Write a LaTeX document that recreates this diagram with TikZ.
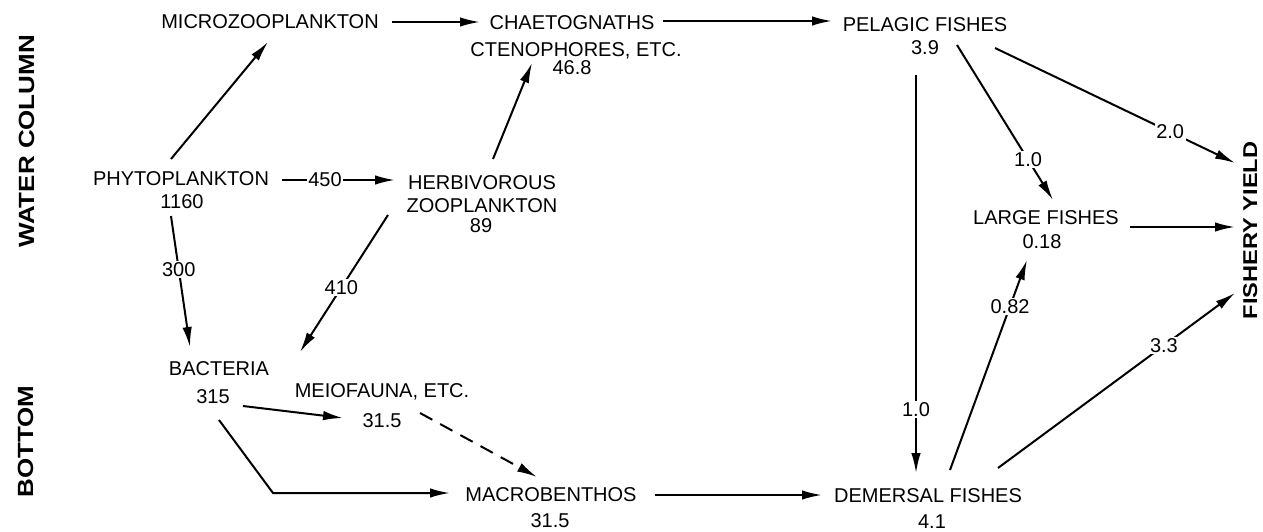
\documentclass[tikz,border=0pt]{standalone}
\usepackage{fontspec}
\setmainfont{Liberation Sans}
\newfontfamily\widebf{Liberation Sans}[FakeStretch=1.18]
\usetikzlibrary{arrows.meta}
\begin{document}
\begin{tikzpicture}[x=1pt,y=-1pt,
  lab/.style={anchor=base,inner sep=0pt,font=\fontsize{20}{24}\selectfont},
  flow/.style={line width=2pt,-{Latex[length=20pt,width=9.5pt]}},
  num/.style={fill=white,inner sep=1.5pt,font=\fontsize{20}{24}\selectfont},
  side/.style={anchor=base,rotate=90,inner sep=0pt,font=\widebf\bfseries\fontsize{22}{26}\selectfont}]
\useasboundingbox (0,0) rectangle (1263,532);
% side labels
\node[side] (water) at (34,141.5) {WATER COLUMN};
\node[side] (bottom) at (33,441.5) {BOTTOM};
\node[side,font=\widebf\bfseries\fontsize{20}{24}\selectfont] (fish) at (1257,230.5) {FISHERY YIELD};
% compartments
\node[lab] (micro) at (270,29) {MICROZOOPLANKTON};
\node[lab] (chaet) at (572,30) {CHAETOGNATHS};
\node[lab] (cteno) at (576,57) {CTENOPHORES, ETC.};
\node[lab] (chaetv) at (572,75) {46.8};
\node[lab] (pel) at (925,32) {PELAGIC FISHES};
\node[lab] (pelv) at (925,55) {3.9};
\node[lab] (phyto) at (181,185) {PHYTOPLANKTON};
\node[lab] (phytov) at (182,208) {1160};
\node[lab] (herb) at (482,189) {HERBIVOROUS};
\node[lab] (zoo) at (482,212) {ZOOPLANKTON};
\node[lab] (herbv) at (481,232) {89};
\node[lab] (large) at (1046,224) {LARGE FISHES};
\node[lab] (largev) at (1042,248) {0.18};
\node[lab] (bact) at (219,375) {BACTERIA};
\node[lab] (bactv) at (213,403) {315};
\node[lab] (meio) at (382,397) {MEIOFAUNA, ETC.};
\node[lab] (meiov) at (382,427) {31.5};
\node[lab] (macro) at (551,501) {MACROBENTHOS};
\node[lab] (macrov) at (550,527) {31.5};
\node[lab] (dem) at (928,502) {DEMERSAL FISHES};
\node[lab] (demv) at (932,528) {4.1};
% flows
\draw[flow] ([shift={(122,-7)}]micro.base) -- ([shift={(-92,-8)}]chaet.base);
\draw[flow] ([shift={(91,-9)}]chaet.base) -- ([shift={(-93,-11)}]pel.base);
\draw[flow] ([shift={(-10,-26)}]phyto.base) -- ([shift={(-2,13)}]micro.base);
\draw[flow] ([shift={(101,-5)}]phyto.base) -- node[num,pos=0.38]{450} ([shift={(-87,-9)}]herb.base);
\draw[flow] ([shift={(11,-30)}]herb.base) -- ([shift={(-40,-12)}]chaetv.base);
\draw[flow] ([shift={(-11,8)}]phytov.base) -- node[num,pos=0.41]{300} ([shift={(-29,-28)}]bact.base);
\draw[flow] ([shift={(-94,3)}]zoo.base) -- node[num,pos=0.53]{410} ([shift={(81,-23)}]bact.base);
\draw[flow] ([shift={(30,3)}]bactv.base) -- ([shift={(-39,-9)}]meiov.base);
\draw[flow,dash pattern=on 14pt off 9pt] ([shift={(38,-14)}]meiov.base) -- ([shift={(-14,-24)}]macro.base);
\draw[flow] ([shift={(6,17)}]bactv.base) -- ++(54,73) -- ([shift={(-101,-8)}]macro.base);
\draw[flow] ([shift={(104,-6)}]macro.base) -- ([shift={(-106,-7)}]dem.base);
\draw[flow] ([shift={(-9,20)}]pelv.base) -- node[num,pos=0.84]{1.0} ([shift={(-12,-29)}]dem.base);
\draw[flow] ([shift={(32,-10)}]pelv.base) -- node[num,pos=0.74]{1.0} ([shift={(7,-24)}]large.base);
\draw[flow] ([shift={(70,16)}]pel.base) -- node[num,pos=0.73]{2.0} ([shift={(-22,-67.5)}]fish.base);
\draw[flow] ([shift={(84,3)}]large.base) -- ([shift={(-22,-3.5)}]fish.base);
\draw[flow] ([shift={(22,-32)}]dem.base) -- node[num,pos=0.78]{0.82} ([shift={(-15,12)}]largev.base);
\draw[flow] ([shift={(70,-34)}]dem.base) -- node[num,pos=0.70]{3.3} ([shift={(-22,62.5)}]fish.base);
\end{tikzpicture}
\end{document}
